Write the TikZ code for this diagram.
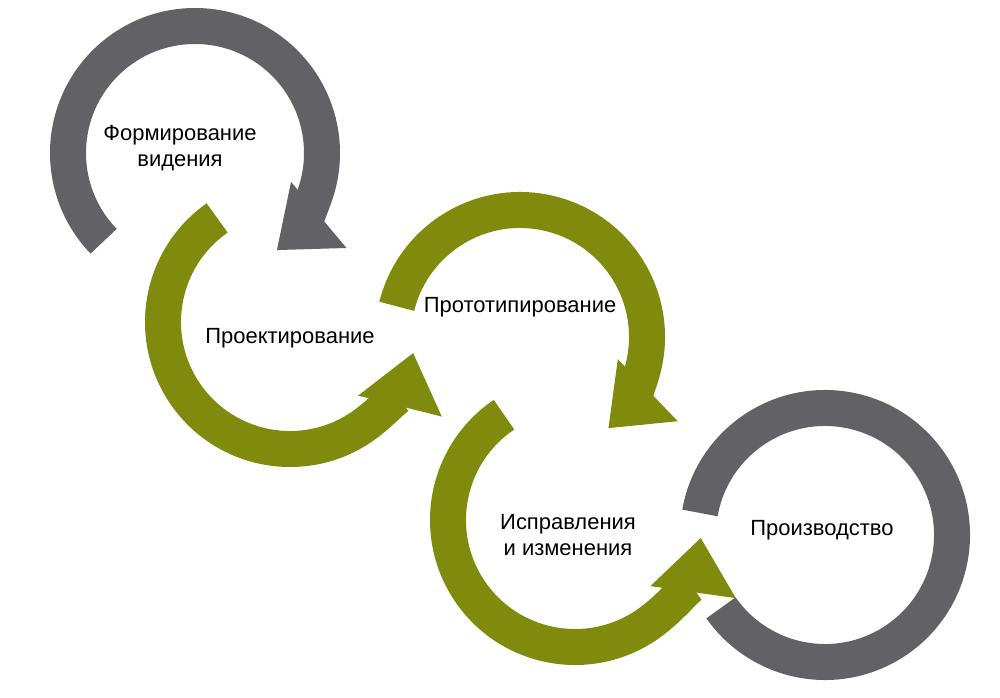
\documentclass[tikz,border=0pt]{standalone}
\usepackage{fontspec}
\setmainfont{Liberation Sans}
\usetikzlibrary{arrows.meta}
\definecolor{ringgray}{HTML}{626166}
\definecolor{ringgreen}{HTML}{808A0C}
\tikzset{
  ring/.style={line width=0.72cm},
  ringarrow/.style={ring,-{Triangle[length=1.1cm,width=1.65cm]}},
  label/.style={align=center,font=\fontsize{12.5}{15}\selectfont}
}
\begin{document}
\begin{tikzpicture}[x=0.02cm,y=0.02cm]
  \useasboundingbox (0,0) rectangle (1000,697);
  % rings: center x, center y, start angle, end angle, colour
  \foreach \cx/\cy/\sa/\ea/\col in {195/544/224/-50/ringgray,
      290/375/125/346/ringgreen, 520/360/166/-46/ringgreen,
      575/177/124/352/ringgreen}
    \draw[ringarrow,\col] (\cx,\cy) ++(\sa:127) arc[start angle=\sa,end angle=\ea,radius=127];
  \draw[ring,ringgray] (825,162) ++(170:127) arc[start angle=170,end angle=-145,radius=127];
  % labels
  \node[label] (vision) at (180,549) {Формирование\\видения};
  \node[label] (design) at (290,359) {Проектирование};
  \node[label] (proto) at (520,390) {Прототипирование};
  \node[label] (fix) at (568,162) {Исправления\\и изменения};
  \node[label] (prod) at (822,167) {Производство};
\end{tikzpicture}
\end{document}
